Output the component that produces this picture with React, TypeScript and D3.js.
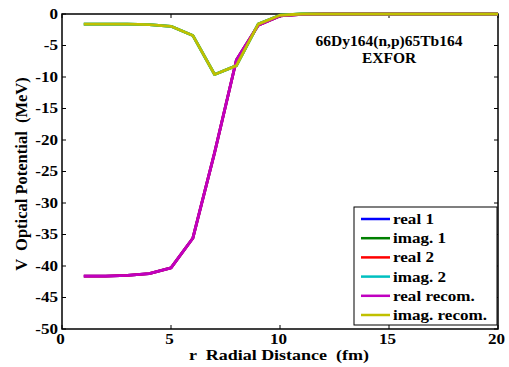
import React from "react";
import * as d3 from "d3";

const rValues = [1, 2, 3, 4, 5, 6, 7, 8, 9, 10, 11, 12, 13, 14, 15, 16, 17, 18, 19, 20];
const realValues = [-41.6, -41.6, -41.5, -41.2, -40.3, -35.6, -22.0, -7.3, -1.8, -0.3, -0.05, 0, 0, 0, 0, 0, 0, 0, 0, 0];
const imagValues = [-1.6, -1.6, -1.6, -1.7, -1.95, -3.4, -9.6, -8.2, -1.6, -0.2, 0, 0, 0, 0, 0, 0, 0, 0, 0, 0];
const seriesNames = ["real 1", "imag. 1", "real 2", "imag. 2", "real recom.", "imag. recom."];
const seriesColors = ["#0000ff", "#008000", "#ff0000", "#00c0c0", "#c000c0", "#c0c000"];
const seriesKinds = ["real", "imag", "real", "imag", "real", "imag"];
const xTicks = [0, 5, 10, 15, 20];
const yTicks = [0, -5, -10, -15, -20, -25, -30, -35, -40, -45, -50];
const titleLines = ["66Dy164(n,p)65Tb164", "EXFOR"];

export default function App() {
  const W = 509, H = 367;
  const left = 62, right = 498, top = 14, bottom = 329;
  const x = d3.scaleLinear().domain([0, 20]).range([left, right]);
  const y = d3.scaleLinear().domain([-50, 0]).range([bottom, top]);
  const line = d3.line<number>().x((_, i) => x(rValues[i])).y((d) => y(d));
  const font = "'Liberation Serif', 'Times New Roman', serif";
  const tickLen = 4;
  const sx = 1.22;
  return (
    <svg width={W} height={H} style={{ position: "absolute", left: 0, top: 0, background: "#fff" }} fontFamily={font}>
      <rect x={0} y={0} width={W} height={H} fill="#fff" />
      <rect x={left} y={top} width={right - left} height={bottom - top} fill="#fff" stroke="#000" strokeWidth={1.5} />
      {xTicks.map((t) => (
        <g key={"x" + t}>
          <line x1={x(t)} x2={x(t)} y1={bottom} y2={bottom - tickLen} stroke="#000" />
          <line x1={x(t)} x2={x(t)} y1={top} y2={top + tickLen} stroke="#000" />
          <text transform={`translate(${x(t) - 1.5},343.5) scale(${sx},1)`} textAnchor="middle" fontSize={14} fontWeight="bold">{t}</text>
        </g>
      ))}
      {yTicks.map((t) => (
        <g key={"y" + t}>
          <line x1={left} x2={left + tickLen} y1={y(t)} y2={y(t)} stroke="#000" />
          <line x1={right} x2={right - tickLen} y1={y(t)} y2={y(t)} stroke="#000" />
          <text transform={`translate(58,${y(t) + 4.7}) scale(${sx},1)`} textAnchor="end" fontSize={14} fontWeight="bold">{t}</text>
        </g>
      ))}
      {seriesNames.map((n, i) => (
        <path key={n} d={line(seriesKinds[i] === "real" ? realValues : imagValues) || ""} fill="none"
          stroke={seriesColors[i]} strokeWidth={2.8} strokeLinejoin="round" />
      ))}
      {titleLines.map((t, i) => (
        <text key={t} x={389} y={46 + i * 17} textAnchor="middle" fontSize={15.5} fontWeight="bold">{t}</text>
      ))}
      <text transform={`translate(279,360) scale(1.2,1)`} textAnchor="middle" fontSize={15} fontWeight="bold" xmlSpace="preserve">{"r  Radial Distance  (fm)"}</text>
      <text transform={`translate(27,${174}) rotate(-90)`} textAnchor="middle" fontSize={16.5} fontWeight="bold" xmlSpace="preserve">{"V  Optical Potential  (MeV)"}</text>
      <g>
        <rect x={354} y={207} width={143} height={118} fill="#fff" stroke="#000" strokeWidth={1} />
        {seriesNames.map((n, i) => (
          <g key={"l" + n}>
            <line x1={361} x2={390} y1={219 + i * 19.2} y2={219 + i * 19.2} stroke={seriesColors[i]} strokeWidth={2.5} />
            <text transform={`translate(393,${219 + i * 19.2 + 5}) scale(${sx},1)`} fontSize={14} fontWeight="bold">{n}</text>
          </g>
        ))}
      </g>
    </svg>
  );
}
